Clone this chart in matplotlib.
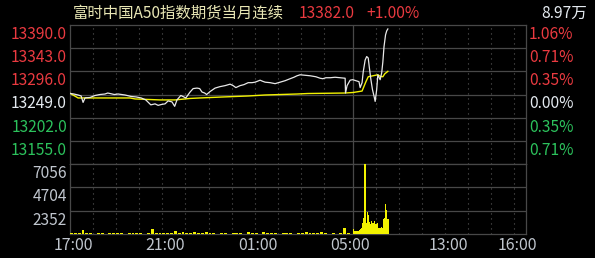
import matplotlib
matplotlib.use('Agg')
import matplotlib.pyplot as plt
import matplotlib.transforms as mtransforms

plt.rcParams['font.family'] = ['Noto Sans CJK SC', 'DejaVu Sans']

# ---------------- data ----------------
title_text = "富时中国A50指数期货当月连续"
last_price_text = "13382.0"
change_text = "+1.00%"
volume_total_text = "8.97万"

prev_close = 13249.0
price_levels = [13390.0, 13343.0, 13296.0, 13249.0, 13202.0, 13155.0]
price_bottom = 13108.0
pct_labels = ["1.06%", "0.71%", "0.35%", "0.00%", "0.35%", "0.71%"]
vol_levels = [7056, 4704, 2352]
vol_max = 7056
time_tick_labels = ["17:00", "21:00", "01:00", "05:00", "13:00", "16:00"]
hour_grid = ["18:00", "19:00", "20:00", "21:00", "22:00", "23:00", "00:00",
             "01:00", "02:00", "03:00", "04:00",
             "10:00", "11:00", "12:00", "13:00", "14:00", "15:00", "16:00"]
night_open, night_close = "17:00", "05:15"
day_open, day_close = "09:00", "16:30"

price_times = ["17:01", "17:10", "17:21", "17:29", "17:34", "17:39", "17:52", "18:05",
               "18:18", "18:31", "18:38", "18:44", "18:55", "19:05", "19:23", "19:39",
               "19:52", "20:05", "20:17", "20:30", "20:41", "20:49", "20:59", "21:07",
               "21:15", "21:25", "21:32", "21:38", "21:48", "21:56", "22:01", "22:12",
               "22:20", "22:30", "22:37", "22:43", "22:50", "22:55", "23:04", "23:17",
               "23:30", "23:43", "23:56", "00:04", "00:11", "00:22", "00:32", "00:43",
               "00:53", "01:01", "01:14", "01:20", "01:27", "01:40", "01:53", "02:06",
               "02:19", "02:32", "02:42", "02:50", "02:58", "03:11", "03:24", "03:39",
               "03:50", "03:57", "04:05", "04:16", "04:29", "04:42", "04:55", "04:56",
               "05:00", "05:08", "05:14",
               "09:00", "09:08", "09:16", "09:19", "09:24", "09:27", "09:32", "09:36",
               "09:40", "09:43", "09:47", "09:51", "09:55", "09:58", "10:02", "10:05",
               "10:11", "10:15", "10:18", "10:21", "10:25", "10:28", "10:31"]
price_values = [13251, 13250, 13248, 13246, 13233, 13242, 13243, 13247,
                13249, 13250, 13252, 13251, 13249, 13250, 13248, 13245,
                13244, 13242, 13238, 13228, 13230, 13227, 13229, 13230,
                13236, 13234, 13225, 13238, 13247, 13244, 13242, 13254,
                13261, 13262, 13261, 13254, 13252, 13249, 13255, 13262,
                13265, 13267, 13270, 13267, 13263, 13267, 13269, 13273,
                13273, 13274, 13278, 13276, 13274, 13273, 13271, 13274,
                13277, 13281, 13284, 13287, 13289, 13288, 13287, 13285,
                13282, 13281, 13283, 13283, 13284, 13283, 13282, 13252,
                13267, 13278, 13279,
                13279, 13277, 13275, 13263, 13273, 13295, 13319, 13326,
                13323, 13303, 13279, 13259, 13246, 13235, 13259, 13289,
                13279, 13293, 13315, 13346, 13370, 13378, 13382]

avg_times = ["17:01", "17:10", "17:21", "19:36", "19:49", "20:54", "21:33", "22:12",
             "22:38", "23:38", "00:43", "01:27", "02:50", "03:18", "04:55", "05:14",
             "09:00", "09:24", "09:34", "09:40", "10:05", "10:11", "10:18", "10:23", "10:31"]
avg_values = [13251, 13247, 13242, 13242, 13240, 13238, 13238, 13241,
              13242, 13244, 13246, 13248, 13250, 13251, 13252, 13253,
              13253, 13256, 13275, 13285, 13289, 13286, 13285, 13291, 13296]

# night session volume, 10-minute bins starting 17:00
night_vol = [150, 120, 100, 400, 150, 100, 0, 100, 120, 0, 100, 100,
             120, 100, 0, 100, 100, 120, 100, 0, 100, 470, 150, 120,
             100, 120, 100, 300, 150, 200, 150, 120, 200, 150, 120, 200,
             150, 100, 0, 100, 100, 0, 100, 120, 100, 0, 200, 100,
             100, 0, 200, 120, 100, 100, 0, 100, 120, 100, 0, 100,
             100, 200, 120, 100, 120, 200, 100, 0, 100, 0, 100, 640,
             100, 0]
# day session volume, 3-minute bins starting 09:00
day_vol = [500, 300, 300, 350, 350, 400, 500, 630, 1140, 1580, 7056,
           1100, 2250, 1900, 1240, 1000, 1310, 1100, 1310, 1000, 980,
           1080, 640, 570, 740, 570, 1480, 1580, 3020, 2420, 1480]

# ---------------- helpers ----------------
def to_t(s):
    h, m = map(int, s.split(':'))
    if 6 <= h < 17:
        return 12.25 + (h * 60 + m - 540) / 60.0
    return ((h * 60 + m - 17 * 60) % 1440) / 60.0

def fmt(mins):
    mins = mins % 1440
    return "%02d:%02d" % (mins // 60, mins % 60)

night_times = [fmt(17 * 60 + 10 * i) for i in range(len(night_vol))]
day_times = [fmt(9 * 60 + 3 * i) for i in range(len(day_vol))]

# ---------------- colours ----------------
BG = '#000000'
GRID = '#484848'
RED = '#ea3a40'
GREEN = '#2cc25c'
WHITE = '#e4eaf0'
GRAYTXT = '#c0c6ce'
YELLOW = '#f2f200'
TITLE = '#e8e6b4'

W, H = 595, 258
fig = plt.figure(figsize=(W / 100, H / 100), dpi=100, facecolor=BG)

L, R = 70, 526
ax_p = fig.add_axes([L / W, 1 - 164 / H, (R - L) / W, (164 - 25) / H])
ax_v = fig.add_axes([L / W, 1 - 234 / H, (R - L) / W, (234 - 164) / H])

xmin, xmax = to_t(night_open), to_t(day_close)
for ax in (ax_p, ax_v):
    ax.set_facecolor(BG)
    ax.set_xlim(xmin, xmax)
    ax.set_xticks([])
    ax.set_yticks([])
    for sp in ax.spines.values():
        sp.set_color(GRID)
        sp.set_linewidth(0.9)
    for hg in hour_grid:
        ax.axvline(to_t(hg), color='#5a5a5a', lw=0.8, ls=(0, (1, 3.5)), zorder=0)
    ax.axvline(to_t(day_open), color=GRID, lw=0.9, zorder=0)

ax_p.set_ylim(price_bottom, price_levels[0])
ax_v.set_ylim(0, vol_max)

for lv in price_levels[1:]:
    ax_p.axhline(lv, color=GRID, lw=0.9, zorder=0)
for lv in vol_levels[1:]:
    ax_v.axhline(lv, color=GRID, lw=0.9, zorder=0)

# price & average lines
ax_p.plot([to_t(t) for t in avg_times], avg_values, color=YELLOW, lw=1.0, zorder=3)
ax_p.plot([to_t(t) for t in price_times], price_values, color='#e8e8e8', lw=0.9, zorder=4)

# volume bars
ax_v.bar([to_t(t) for t in night_times], night_vol, width=7.5 / 60, align='edge',
         color=YELLOW, linewidth=0, zorder=3)
ax_v.bar([to_t(t) for t in day_times], day_vol, width=3 / 60, align='edge',
         color=YELLOW, linewidth=0, zorder=3)

FS = 11.2
# left price labels
trans_lp = mtransforms.blended_transform_factory(fig.transFigure, ax_p.transData)
trans_lv = mtransforms.blended_transform_factory(fig.transFigure, ax_v.transData)
off = mtransforms.ScaledTranslation(0, -1.0 / 100, fig.dpi_scale_trans)
for lv, pl in zip(price_levels, pct_labels):
    if lv > prev_close:
        c = RED
    elif lv < prev_close:
        c = GREEN
    else:
        c = WHITE
    fig.text(67 / W, lv, "%.1f" % lv, color=c, fontsize=FS, ha='right', va='top',
             transform=trans_lp + off)
    fig.text(529 / W, lv, pl, color=c, fontsize=FS, ha='left', va='top',
             transform=trans_lp + off)
for lv in vol_levels:
    fig.text(67 / W, lv, "%d" % lv, color=GRAYTXT, fontsize=FS, ha='right', va='top',
             transform=trans_lv + off)

# time labels
trans_t = mtransforms.blended_transform_factory(ax_v.transData, fig.transFigure)
toff = mtransforms.ScaledTranslation(3 / 100, 0, fig.dpi_scale_trans)
for tl in time_tick_labels:
    fig.text(to_t(tl), 1 - 245 / H, tl, color=GRAYTXT, fontsize=11.5, ha='center',
             va='center', transform=trans_t + toff)

# header
fig.text(73 / W, 1 - 13 / H, title_text, color=TITLE, fontsize=11.1, ha='left', va='center')
fig.text(299 / W, 1 - 13 / H, last_price_text, color=RED, fontsize=FS, ha='left', va='center')
fig.text(366 / W, 1 - 13 / H, change_text, color=RED, fontsize=FS, ha='left', va='center')
fig.text(587 / W, 1 - 13 / H, volume_total_text, color=WHITE, fontsize=FS, ha='right', va='center')

fig.savefig('out.png', dpi=100, facecolor=BG)
